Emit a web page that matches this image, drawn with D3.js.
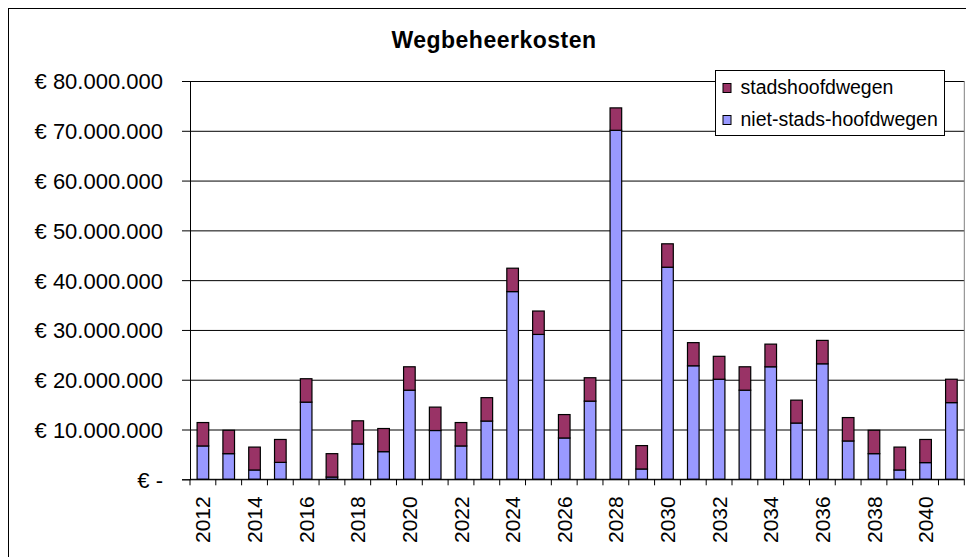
<!DOCTYPE html>
<html>
<head>
<meta charset="utf-8">
<script src="https://cdn.jsdelivr.net/npm/d3@7"></script>
<style>
  body { margin: 0; background: #fff; }
  text { font-family: "Liberation Sans", Arial, sans-serif; fill: #000; }
</style>
</head>
<body>
<div id="chart"></div>
<script>
var years = [2012, 2013, 2014, 2015, 2016, 2017, 2018, 2019, 2020, 2021,
             2022, 2023, 2024, 2025, 2026, 2027, 2028, 2029, 2030, 2031,
             2032, 2033, 2034, 2035, 2036, 2037, 2038, 2039, 2040, 2041];

// niet-stads-hoofdwegen (blauw)
var nietStads = [6700000, 5150000, 1870000, 3400000, 15500000, 450000, 7100000, 5550000, 17900000, 9800000,
                 6700000, 11700000, 37700000, 29100000, 8300000, 15700000, 70100000, 2070000, 42600000, 22800000,
                 20100000, 17900000, 22600000, 11300000, 23200000, 7700000, 5150000, 1870000, 3350000, 15400000];

// stadshoofdwegen (paars)
var stads = [4700000, 4700000, 4600000, 4600000, 4700000, 4700000, 4650000, 4650000, 4700000, 4700000,
             4700000, 4700000, 4700000, 4700000, 4700000, 4700000, 4500000, 4700000, 4700000, 4650000,
             4600000, 4700000, 4550000, 4600000, 4700000, 4700000, 4700000, 4600000, 4650000, 4700000];

var yTicks = [0, 10000000, 20000000, 30000000, 40000000, 50000000, 60000000, 70000000, 80000000];
var yearLabels = [2012, 2014, 2016, 2018, 2020, 2022, 2024, 2026, 2028, 2030, 2032, 2034, 2036, 2038, 2040];

var series = [
    { key: 'niet', name: 'niet-stads-hoofdwegen', color: '#9999FF' },
    { key: 'stads', name: 'stadshoofdwegen', color: '#993366' }
];

var W = 966, H = 557;
var plot = { left: 190, right: 964.3, top: 81, bottom: 479.3 };

var svg = d3.select('#chart').append('svg')
    .attr('width', W)
    .attr('height', H);

// chart border
svg.append('rect')
    .attr('x', 8.5).attr('y', 8.5)
    .attr('width', W + 10).attr('height', H + 10)
    .attr('fill', '#fff')
    .attr('stroke', '#000');

var table = years.map(function (d, i) {
    return { year: d, niet: nietStads[i], stads: stads[i] };
});

var x = d3.scaleBand()
    .domain(years)
    .range([plot.left, plot.right])
    .paddingInner(0.55)
    .paddingOuter(0.275);

var y = d3.scaleLinear()
    .domain([0, 80000000])
    .range([plot.bottom, plot.top]);

var fmt = function (d) {
    if (d === 0) return '€ -';
    return '€ ' + d3.format(',')(d).replace(/,/g, '.');
};

// gridlines
svg.append('g')
    .attr('class', 'grid')
    .attr('transform', 'translate(' + plot.left + ',0)')
    .call(d3.axisLeft(y).tickValues(yTicks).tickSize(-(plot.right - plot.left)).tickFormat(''))
    .call(function (g) { g.select('.domain').remove(); })
    .selectAll('line').attr('stroke', '#000');

// plot area right border
svg.append('line')
    .attr('x1', plot.right).attr('x2', plot.right)
    .attr('y1', plot.top).attr('y2', plot.bottom)
    .attr('stroke', '#808080');

// bars
var stacked = d3.stack().keys(series.map(function (s) { return s.key; }))(table);

svg.selectAll('.layer')
    .data(stacked)
    .enter()
    .append('g')
    .attr('class', 'layer')
    .attr('fill', function (d, i) { return series[i].color; })
    .selectAll('rect')
    .data(function (d) { return d; })
    .enter()
    .append('rect')
    .attr('x', function (d) { return x(d.data.year); })
    .attr('y', function (d) { return y(d[1]); })
    .attr('width', x.bandwidth())
    .attr('height', function (d) { return y(d[0]) - y(d[1]); })
    .attr('stroke', '#000')
    .attr('stroke-width', 1.2);

// y axis
var yAxis = svg.append('g')
    .attr('transform', 'translate(' + plot.left + ',0)')
    .call(d3.axisLeft(y).tickValues(yTicks).tickSize(8).tickPadding(19).tickFormat(fmt));
yAxis.selectAll('line, path').attr('stroke', '#000');
yAxis.selectAll('text')
    .style('font-size', '22px')
    .attr('dy', '0.36em');

// x axis: baseline, boundary ticks, labels
svg.append('line')
    .attr('x1', plot.left).attr('x2', plot.right)
    .attr('y1', plot.bottom).attr('y2', plot.bottom)
    .attr('stroke', '#000');

var step = x.step();
svg.selectAll('.xtick')
    .data(d3.range(years.length + 1))
    .enter()
    .append('line')
    .attr('class', 'xtick')
    .attr('x1', function (i) { return plot.left + i * step; })
    .attr('x2', function (i) { return plot.left + i * step; })
    .attr('y1', plot.bottom)
    .attr('y2', plot.bottom + 6)
    .attr('stroke', '#000');

var xAxis = svg.append('g')
    .attr('transform', 'translate(0,' + plot.bottom + ')')
    .call(d3.axisBottom(x).tickValues(yearLabels).tickSize(0).tickPadding(0));
xAxis.select('.domain').remove();
xAxis.selectAll('text')
    .style('font-size', '21px')
    .attr('text-anchor', 'end')
    .attr('transform', 'translate(0,17) rotate(-90)')
    .attr('x', 0)
    .attr('y', 0)
    .attr('dy', '0.36em');

// title
svg.append('text')
    .attr('x', 494)
    .attr('y', 48)
    .attr('text-anchor', 'middle')
    .style('font-size', '23px')
    .style('font-weight', 'bold')
    .style('letter-spacing', '0.5px')
    .text('Wegbeheerkosten');

// legend
var legend = svg.append('g').attr('transform', 'translate(715.5,70.5)');
legend.append('rect')
    .attr('width', 229)
    .attr('height', 65)
    .attr('fill', '#fff')
    .attr('stroke', '#000');

var legendItems = [series[1], series[0]];
var item = legend.selectAll('.item')
    .data(legendItems)
    .enter()
    .append('g')
    .attr('class', 'item')
    .attr('transform', function (d, i) { return 'translate(0,' + (i * 32) + ')'; });

item.append('rect')
    .attr('x', 7.5).attr('y', 13)
    .attr('width', 8).attr('height', 9)
    .attr('fill', function (d) { return d.color; })
    .attr('stroke', '#000');

item.append('text')
    .attr('x', 25)
    .attr('y', 23)
    .style('font-size', '19.5px')
    .text(function (d) { return d.name; });
</script>
</body>
</html>
